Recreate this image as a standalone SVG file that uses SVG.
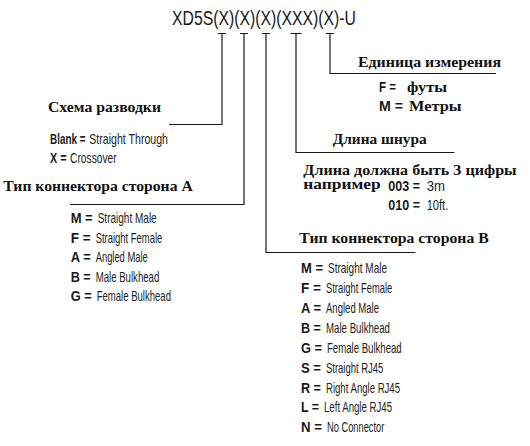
<svg xmlns="http://www.w3.org/2000/svg" width="530" height="446" viewBox="0 0 530 446">
<style>
.bg{fill:#ffffff}
.title{font-family:"Liberation Sans",Arial,sans-serif;font-size:20px;fill:#1a1a1a}
.hd{font-family:"Liberation Serif","Times New Roman",serif;font-weight:bold;font-size:14.5px;fill:#111}
.it{font-family:"Liberation Sans",Arial,sans-serif;font-size:15px;fill:#222}
.k{font-family:"Liberation Sans",Arial,sans-serif;font-size:15px;font-weight:bold;fill:#1a1a1a}
.ln{stroke:#1a1a1a;stroke-width:1.2;fill:none}
</style>
<rect class="bg" x="0" y="0" width="530" height="446"/>
<g id="title">
<text class="title" x="172" y="25" textLength="184" lengthAdjust="spacingAndGlyphs">XD5S(X)(X)(X)(XXX)(X)-U</text>
</g>
<g id="connectors">
<path class="ln" d="M218,33.5H226M222,33.5V124.5H169"/>
<path class="ln" d="M240,33.5H248M244,33.5V204.5H70"/>
<path class="ln" d="M262,33.5H270M266,33.5V252.5H415.5"/>
<path class="ln" d="M290.5,33.5H301.5M296,33.5V152.5H454.5"/>
<path class="ln" d="M326,33.5H334M330,33.5V73.5H496"/>
</g>
<g id="unit">
<text class="hd" x="358" y="67" textLength="143" lengthAdjust="spacingAndGlyphs">Единица измерения</text>
<text class="k" x="379" y="92" textLength="17" lengthAdjust="spacingAndGlyphs">F =</text>
<text class="hd" x="407" y="92" textLength="40" lengthAdjust="spacingAndGlyphs">футы</text>
<text class="k" x="379" y="111" textLength="24" lengthAdjust="spacingAndGlyphs">M =</text>
<text class="hd" x="409" y="111" textLength="52.5" lengthAdjust="spacingAndGlyphs">Метры</text>
</g>
<g id="wiring">
<text class="hd" x="48" y="112" textLength="113" lengthAdjust="spacingAndGlyphs">Схема разводки</text>
<text class="k" transform="translate(50,143.5) scale(0.66,1)" x="0" y="0">Blank =</text>
<text class="it" x="89.3" y="143.5" textLength="78.7" lengthAdjust="spacingAndGlyphs">Straight Through</text>
<text class="k" transform="translate(50,163) scale(0.72,1)" x="0" y="0">X =</text>
<text class="it" x="70" y="163" textLength="46.7" lengthAdjust="spacingAndGlyphs">Crossover</text>
</g>
<g id="length">
<text class="hd" x="332.7" y="143.5" textLength="94" lengthAdjust="spacingAndGlyphs">Длина шнура</text>
<text class="hd" x="303.3" y="174.5" textLength="213.4" lengthAdjust="spacingAndGlyphs">Длина должна быть 3 цифры</text>
<text class="hd" x="303.3" y="189" textLength="77.4" lengthAdjust="spacingAndGlyphs">например</text>
<text class="k" x="388.3" y="191" textLength="31.7" lengthAdjust="spacingAndGlyphs">003 =</text>
<text class="it" x="426.7" y="191" textLength="18.3" lengthAdjust="spacingAndGlyphs">3m</text>
<text class="k" x="388.3" y="210" textLength="31.7" lengthAdjust="spacingAndGlyphs">010 =</text>
<text class="it" x="426.7" y="210" textLength="21.6" lengthAdjust="spacingAndGlyphs">10ft.</text>
</g>
<g id="side-a">
<text class="hd" x="3.3" y="191" textLength="189.4" lengthAdjust="spacingAndGlyphs">Тип коннектора сторона A</text>
<text class="k" x="70.7" y="223.3" textLength="22" lengthAdjust="spacingAndGlyphs">M =</text>
<text class="it" x="97.7" y="223.3" textLength="59" lengthAdjust="spacingAndGlyphs">Straight Male</text>
<text class="k" x="70.7" y="242.7" textLength="20" lengthAdjust="spacingAndGlyphs">F =</text>
<text class="it" x="95.7" y="242.7" textLength="66.6" lengthAdjust="spacingAndGlyphs">Straight Female</text>
<text class="k" x="70.7" y="262.1" textLength="20" lengthAdjust="spacingAndGlyphs">A =</text>
<text class="it" x="95.7" y="262.1" textLength="52" lengthAdjust="spacingAndGlyphs">Angled Male</text>
<text class="k" x="70.7" y="281.5" textLength="20" lengthAdjust="spacingAndGlyphs">B =</text>
<text class="it" x="95.7" y="281.5" textLength="63.6" lengthAdjust="spacingAndGlyphs">Male Bulkhead</text>
<text class="k" x="70.7" y="300.9" textLength="21" lengthAdjust="spacingAndGlyphs">G =</text>
<text class="it" x="96.7" y="300.9" textLength="74.3" lengthAdjust="spacingAndGlyphs">Female Bulkhead</text>
</g>
<g id="side-b">
<text class="hd" x="299.3" y="242.7" textLength="189.4" lengthAdjust="spacingAndGlyphs">Тип коннектора сторона B</text>
<text class="k" x="301" y="273.3" textLength="22" lengthAdjust="spacingAndGlyphs">M =</text>
<text class="it" x="328" y="273.3" textLength="59" lengthAdjust="spacingAndGlyphs">Straight Male</text>
<text class="k" x="301" y="293.2" textLength="20" lengthAdjust="spacingAndGlyphs">F =</text>
<text class="it" x="326" y="293.2" textLength="66.3" lengthAdjust="spacingAndGlyphs">Straight Female</text>
<text class="k" x="301" y="313.1" textLength="20" lengthAdjust="spacingAndGlyphs">A =</text>
<text class="it" x="326" y="313.1" textLength="53" lengthAdjust="spacingAndGlyphs">Angled Male</text>
<text class="k" x="301" y="333" textLength="20" lengthAdjust="spacingAndGlyphs">B =</text>
<text class="it" x="326" y="333" textLength="64" lengthAdjust="spacingAndGlyphs">Male Bulkhead</text>
<text class="k" x="301" y="352.8" textLength="21" lengthAdjust="spacingAndGlyphs">G =</text>
<text class="it" x="327" y="352.8" textLength="74.7" lengthAdjust="spacingAndGlyphs">Female Bulkhead</text>
<text class="k" x="301" y="372.6" textLength="20" lengthAdjust="spacingAndGlyphs">S =</text>
<text class="it" x="326" y="372.6" textLength="57.3" lengthAdjust="spacingAndGlyphs">Straight RJ45</text>
<text class="k" x="301" y="392.5" textLength="20" lengthAdjust="spacingAndGlyphs">R =</text>
<text class="it" x="326" y="392.5" textLength="74" lengthAdjust="spacingAndGlyphs">Right Angle RJ45</text>
<text class="k" x="301" y="412.4" textLength="18" lengthAdjust="spacingAndGlyphs">L =</text>
<text class="it" x="324" y="412.4" textLength="68" lengthAdjust="spacingAndGlyphs">Left Angle RJ45</text>
<text class="k" x="301" y="432.3" textLength="21" lengthAdjust="spacingAndGlyphs">N =</text>
<text class="it" x="327" y="432.3" textLength="57.3" lengthAdjust="spacingAndGlyphs">No Connector</text>
</g>
</svg>
